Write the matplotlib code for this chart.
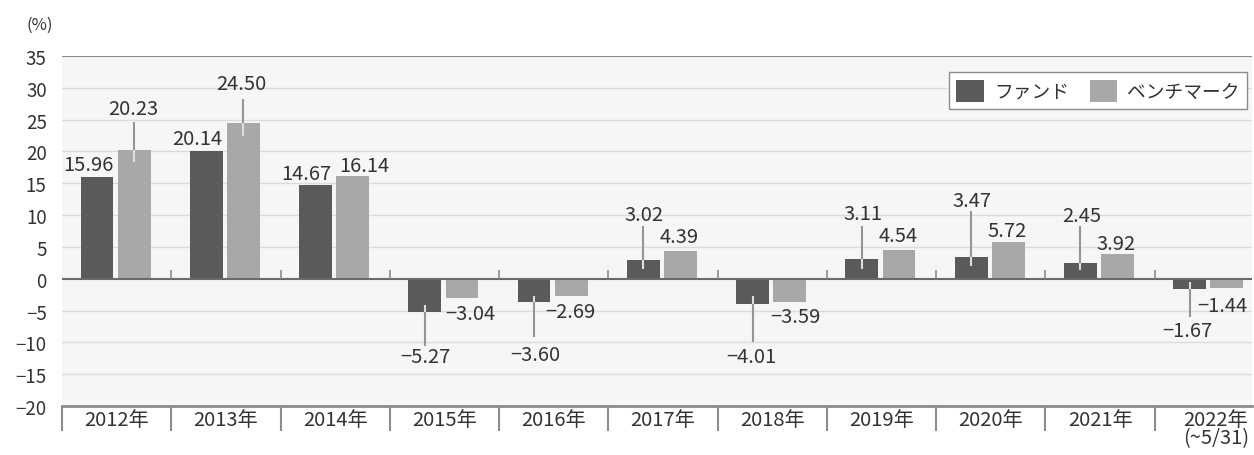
import numpy as np
import matplotlib
matplotlib.use('Agg')
import matplotlib.pyplot as plt
from matplotlib.ticker import FixedLocator

plt.rcParams['font.family'] = ['Noto Sans CJK JP', 'DejaVu Sans']
plt.rcParams['axes.unicode_minus'] = True

years = ['2012年', '2013年', '2014年', '2015年', '2016年', '2017年',
         '2018年', '2019年', '2020年', '2021年', '2022年\n(~5/31)']
fund = [15.96, 20.14, 14.67, -5.27, -3.60, 3.02, -4.01, 3.11, 3.47, 2.45, -1.67]
bench = [20.23, 24.50, 16.14, -3.04, -2.69, 4.39, -3.59, 4.54, 5.72, 3.92, -1.44]
series_names = ['ファンド', 'ベンチマーク']

# label placement (offset from category centre, y in data units)
fund_lab_dx = [-0.26, -0.26, -0.26, -0.17, -0.17, -0.17, -0.19, -0.17, -0.17, -0.17, -0.2]
fund_lab_y = [17.9, 22.0, 16.5, -12.3, -11.9, 10.1, -12.3, 10.3, 12.3, 9.9, -8.2]
bench_lab_dx = [0.15, 0.14, 0.27, 0.24, 0.15, 0.15, 0.21, 0.15, 0.15, 0.15, 0.12]
bench_lab_y = [26.7, 30.7, 17.8, -5.5, -5.2, 6.6, -6.0, 6.8, 7.5, 5.5, -4.2]
# leader lines: index -> (inner end, outer end)
fund_leaders = {3: (-4.2, -10.5), 4: (-2.7, -9.1), 5: (1.6, 8.3), 6: (-2.7, -9.9),
                7: (1.6, 8.3), 8: (2.0, 10.7), 9: (1.3, 8.3), 10: (-0.5, -6.0)}
bench_leaders = {0: (18.4, 24.7), 1: (22.5, 28.3)}

FUND_C = '#5a5a5a'
BENCH_C = '#a8a8a8'
TEXT_C = '#333333'

fig = plt.figure(figsize=(12.54, 4.56), dpi=100)
ax = fig.add_axes([62 / 1254, 1 - 407 / 456, 1190 / 1254, 350 / 456])
ax.set_facecolor('#f6f6f6')

n = len(years)
x = np.arange(n)
off_f, off_b, w = -0.18, 0.16, 0.30

ax.set_xlim(-0.5, 10.39)
ax.set_ylim(-20, 35)

yt = np.arange(-20, 36, 5)
for v in yt:
    if v == 0:
        continue
    if v == 35:
        ax.axhline(v, color='#8c8c8c', lw=1.5, zorder=1)
    else:
        ax.axhline(v, color='#dcdcdc', lw=1.0, zorder=1)

ax.bar(x + off_f, fund, w, color=FUND_C, label=series_names[0], zorder=3)
ax.bar(x + off_b, bench, w, color=BENCH_C, label=series_names[1], zorder=3)

ax.axhline(0, color='#6a6a6a', lw=1.5, zorder=4)
ax.vlines(np.arange(1, n) - 0.5, 0, 1.3, color='#8c8c8c', lw=1.2, zorder=4)


def leaders(vals, off, spec):
    for i, (inner, outer) in spec.items():
        xc = i + off
        ax.plot([xc, xc], [vals[i], outer], color='#959595', lw=1.5, zorder=5,
                solid_capstyle='butt')
        ax.plot([xc, xc], [inner, vals[i]], color='#dedede', lw=1.5, zorder=5,
                solid_capstyle='butt')


leaders(fund, off_f, fund_leaders)
leaders(bench, off_b, bench_leaders)


def fmt(v):
    return f'{v:.2f}'.replace('-', '\u2212')


for i in range(n):
    ax.text(i + fund_lab_dx[i], fund_lab_y[i], fmt(fund[i]), ha='center', va='center',
            fontsize=14.5, color=TEXT_C, zorder=6)
    ax.text(i + bench_lab_dx[i], bench_lab_y[i], fmt(bench[i]), ha='center', va='center',
            fontsize=14.5, color=TEXT_C, zorder=6)

ax.set_yticks(yt)
ax.tick_params(axis='y', length=0, pad=11, labelsize=13.5, labelcolor=TEXT_C)

tick_pos = x.astype(float)
tick_pos[-1] += 0.06
ax.set_xticks(tick_pos)
ax.set_xticklabels(years, fontsize=14.5, color=TEXT_C, linespacing=0.85)
ax.tick_params(axis='x', which='major', length=0, pad=2)
ax.xaxis.set_minor_locator(FixedLocator(np.arange(n) - 0.5))
ax.tick_params(axis='x', which='minor', length=18, width=1.5, color='#8c8c8c', direction='out')

for s in ['left', 'right', 'top']:
    ax.spines[s].set_visible(False)
ax.spines['bottom'].set_color('#8c8c8c')
ax.spines['bottom'].set_linewidth(2)

fig.text(27 / 1254, 1 - 25 / 456, '(%)', fontsize=12, color=TEXT_C, va='center', ha='left')

leg = ax.legend(loc='upper right', bbox_to_anchor=(0.9958, 0.954), ncol=2,
                fontsize=13.5, frameon=True, fancybox=False, edgecolor='#8c8c8c',
                handlelength=1.45, handleheight=1.45, handletextpad=0.55,
                columnspacing=1.1, borderpad=0.4, borderaxespad=0)
leg.get_frame().set_linewidth(1.0)
leg.get_frame().set_facecolor('white')
leg.get_frame().set_alpha(1)
for t in leg.get_texts():
    t.set_color(TEXT_C)
leg.set_zorder(10)

fig.savefig('out.png', dpi=100, facecolor='white')
